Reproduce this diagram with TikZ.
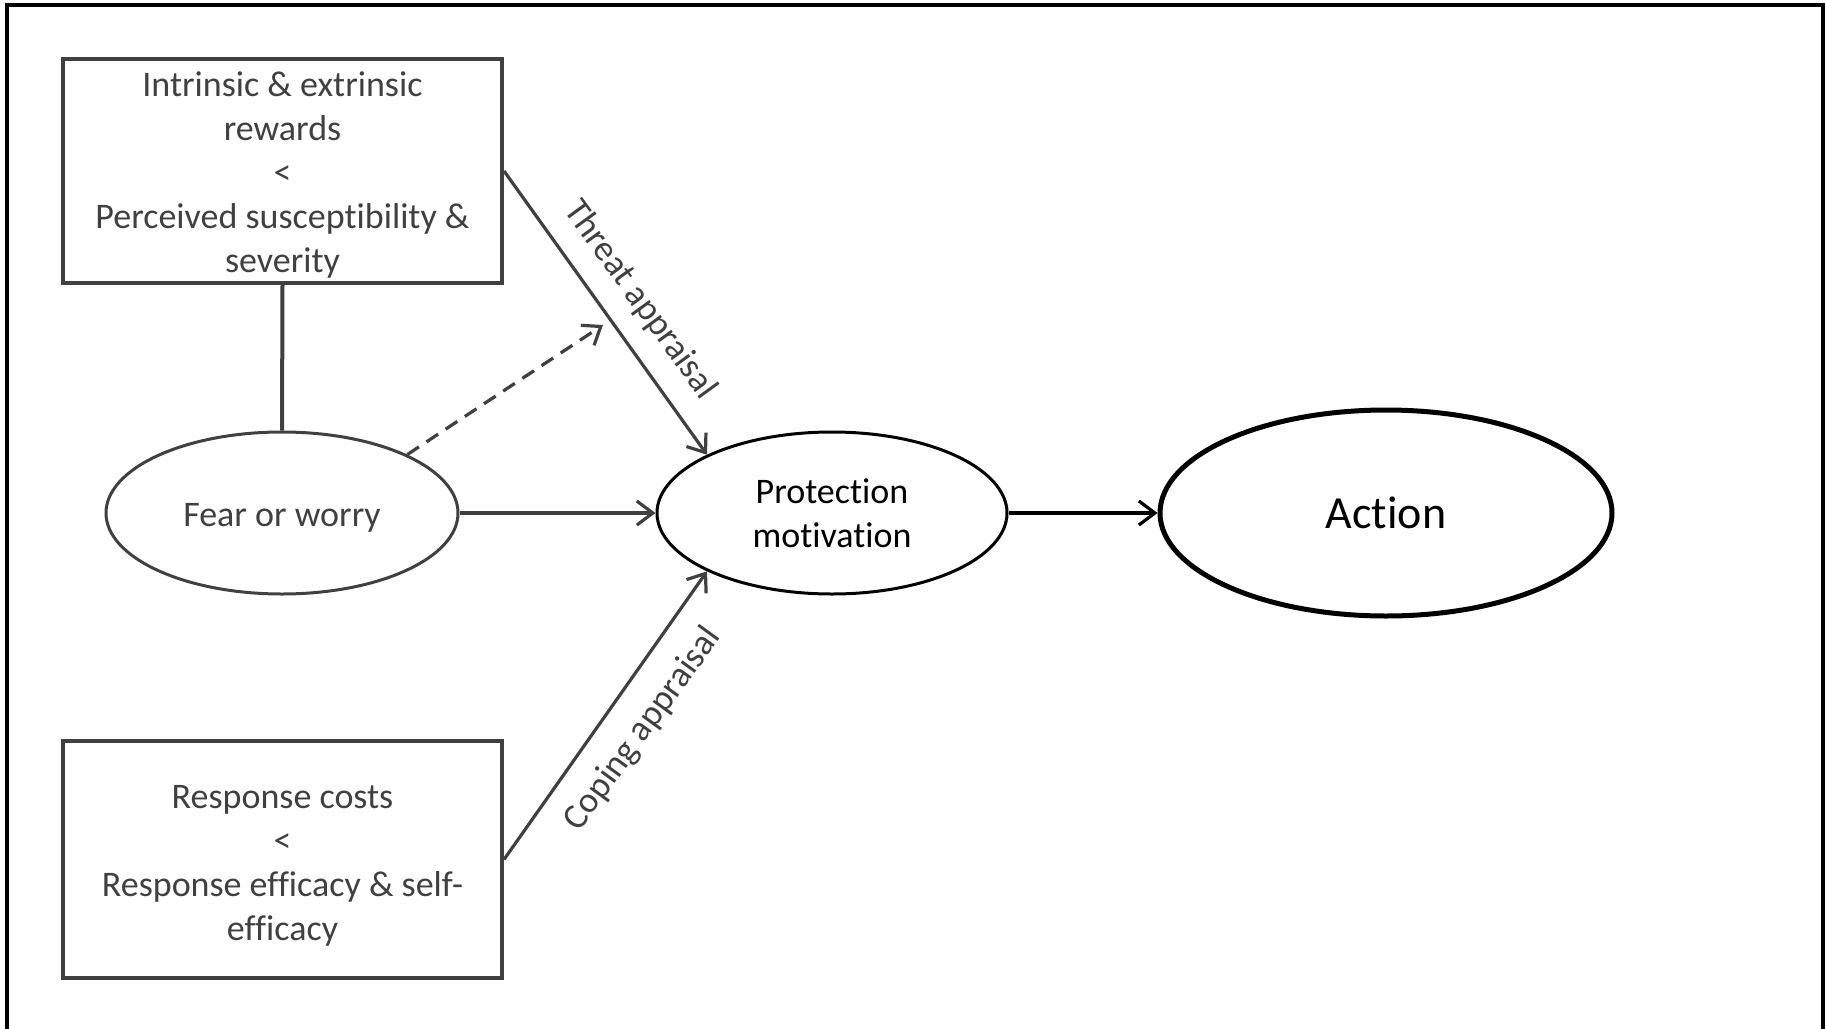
\documentclass[tikz,border=0pt]{standalone}
\usepackage{fontspec}
\setmainfont{Carlito}[Ligatures=NoCommon]
\usetikzlibrary{shapes.geometric,arrows.meta}
\definecolor{ink}{HTML}{404040}
\begin{document}
\begin{tikzpicture}[x=1pt,y=-1pt,
  every node/.style={inner sep=0pt, font=\fontsize{36}{44}\selectfont},
  factorbox/.style={draw=ink, line width=4pt, minimum width=439pt, text=ink, align=center},
  fearnode/.style={ellipse, draw=ink, line width=3pt, minimum width=352pt, minimum height=162pt, text=ink,
    text height=33pt, text depth=7pt},
  motnode/.style={ellipse, draw=black, line width=3pt, minimum width=350pt, minimum height=162pt, text=black, align=center},
  actnode/.style={ellipse, draw=black, line width=5pt, minimum width=452pt, minimum height=206pt, text=black,
    font=\fontsize{46}{55}\selectfont},
  flow/.style={draw=ink, line width=3.2pt, -{Straight Barb[length=16pt,width=24pt,line width=3.2pt]}},
  flowblack/.style={draw=black, line width=3.2pt, -{Straight Barb[length=16pt,width=24pt,line width=3.2pt]}},
  link/.style={draw=ink, line width=4pt},
  moderator/.style={flow, dash pattern=on 14pt off 9pt},
  appraisal/.style={text=ink}
]
\useasboundingbox (0,0) rectangle (1825,1028);

% open frame around the model
\draw[black, line width=3.5pt] (7,1030) -- (7,5) -- (1823,5) -- (1823,1030);

% factors (the struts on the first lines settle the text block a little lower)
\node[factorbox, minimum height=224pt] (threat) at (282.5,171)
  {\rule{0pt}{32.5pt}Intrinsic \& extrinsic\\rewards\\<\\Perceived susceptibility \&\\severity};
\node[factorbox, minimum height=237pt] (coping) at (282.5,859.5)
  {\rule{0pt}{35pt}Response costs\\<\\Response efficacy \& self-\\efficacy};

% states
\node[fearnode] (fear) at (282,513) {Fear or worry};
\node[motnode] (mot) at (832,513) {Protection\\motivation};
\node[actnode] (act) at (1386,513) {Action};

% connectors
\draw[link] (threat.south) -- (fear.north);
\draw[flow] (threat.east) -- (mot.155);
\draw[flow] (coping.east) -- (mot.205);
\draw[flow] (fear.east) -- (mot.west);
\draw[flowblack] (mot.east) -- (act.west);
\coordinate (modtip) at (603,325);
\draw[moderator] (fear.25) -- (modtip);

% appraisal labels
\node[appraisal, rotate=-54] (threatlbl) at (640,300) {Threat appraisal};
\node[appraisal, rotate=54] (copinglbl) at (643,729) {Coping appraisal};
\end{tikzpicture}
\end{document}
